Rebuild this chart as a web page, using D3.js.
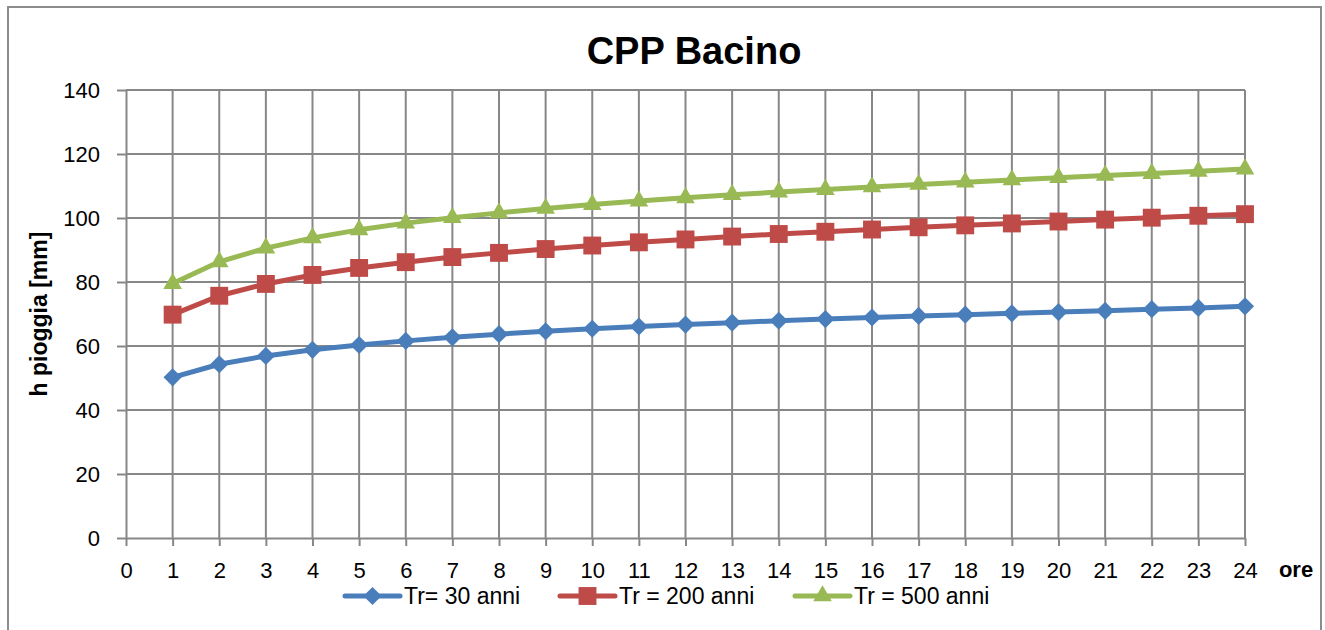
<!DOCTYPE html>
<html>
<head>
<meta charset="utf-8">
<script src="https://cdn.jsdelivr.net/npm/d3@7"></script>
<style>
  html, body { margin: 0; padding: 0; background: #fff; }
  svg { display: block; }
  text { font-family: "Liberation Sans", Arial, sans-serif; fill: #000; }
</style>
</head>
<body>
<svg id="chart" width="1325" height="630"></svg>
<script>
// Durata della pioggia (ore)
const ore = [1,2,3,4,5,6,7,8,9,10,11,12,13,14,15,16,17,18,19,20,21,22,23,24];

// Altezza di pioggia [mm] per tempo di ritorno
const tr30 = [50.2,54.3,56.9,58.8,60.3,61.6,62.7,63.7,64.6,65.4,66.1,66.7,67.3,67.9,68.4,68.9,69.4,69.8,70.2,70.6,71.0,71.5,71.9,72.4];
const tr200 = [69.8,75.7,79.4,82.2,84.4,86.2,87.8,89.1,90.3,91.4,92.4,93.3,94.2,95.0,95.7,96.4,97.1,97.7,98.3,98.9,99.5,100.1,100.7,101.2];
const tr500 = [79.5,86.3,90.6,93.8,96.3,98.4,100.1,101.6,103.0,104.2,105.3,106.3,107.3,108.1,108.9,109.7,110.5,111.2,111.9,112.6,113.3,113.9,114.6,115.3];

const serieNomi = ["Tr= 30 anni", "Tr = 200 anni", "Tr = 500 anni"];
const serieColori = ["#4a7ebb", "#be4b48", "#98b954"];
const serieMarker = ["diamond", "square", "triangle"];

const xTicks = d3.range(0, 25);
const yTicks = [0, 20, 40, 60, 80, 100, 120, 140];

const svg = d3.select("#chart");

// cornice dell'area grafico
svg.append("rect")
  .attr("x", 8).attr("y", 7)
  .attr("width", 1313).attr("height", 640)
  .attr("fill", "#fff").attr("stroke", "#8c8c8c").attr("stroke-width", 2);

const x = d3.scaleLinear().domain([0, 24]).range([126, 1245]);
const y = d3.scaleLinear().domain([0, 140]).range([538, 90]);

const gridColor = "#878787";

// griglia orizzontale
svg.append("g").selectAll("line")
  .data(yTicks.filter(v => v > 0))
  .join("line")
  .attr("x1", x(0)).attr("x2", x(24))
  .attr("y1", d => y(d)).attr("y2", d => y(d))
  .attr("stroke", gridColor).attr("stroke-width", 2);

// griglia verticale
svg.append("g").selectAll("line")
  .data(xTicks.filter(v => v > 0))
  .join("line")
  .attr("x1", d => x(d)).attr("x2", d => x(d))
  .attr("y1", y(0)).attr("y2", y(140))
  .attr("stroke", gridColor).attr("stroke-width", 2);

// asse Y
const yAxis = svg.append("g")
  .attr("transform", `translate(${x(0)},0)`)
  .call(d3.axisLeft(y).tickValues(yTicks).tickSize(9).tickSizeOuter(0).tickPadding(17));
yAxis.select(".domain").attr("stroke", gridColor).attr("stroke-width", 2);
yAxis.selectAll(".tick line").attr("stroke", gridColor).attr("stroke-width", 2);
yAxis.selectAll(".tick text")
  .style("font-family", '"Liberation Sans", Arial, sans-serif')
  .style("font-size", "22px").attr("fill", "#000");

// asse X
const xAxis = svg.append("g")
  .attr("transform", `translate(0,${y(0)})`)
  .call(d3.axisBottom(x).tickValues(xTicks).tickSize(8).tickSizeOuter(0).tickPadding(16));
xAxis.select(".domain").attr("stroke", gridColor).attr("stroke-width", 2);
xAxis.selectAll(".tick line").attr("stroke", gridColor).attr("stroke-width", 2);
xAxis.selectAll(".tick text")
  .style("font-family", '"Liberation Sans", Arial, sans-serif')
  .style("font-size", "22px").attr("fill", "#000");

// titolo
svg.append("text")
  .attr("x", 694).attr("y", 64)
  .attr("text-anchor", "middle")
  .style("font-size", "38px").style("font-weight", "bold")
  .text("CPP Bacino");

// titolo asse Y
svg.append("text")
  .attr("transform", `translate(47,${(y(0) + y(140)) / 2}) rotate(-90)`)
  .attr("text-anchor", "middle")
  .style("font-size", "23px").style("font-weight", "bold")
  .text("h pioggia [mm]");

// titolo asse X
svg.append("text")
  .attr("x", 1296).attr("y", 577)
  .attr("text-anchor", "middle")
  .style("font-size", "22px").style("font-weight", "bold")
  .text("ore");

function markerPath(kind) {
  if (kind === "diamond") return d3.symbol(d3.symbolSquare, 165)();
  if (kind === "square") return d3.symbol(d3.symbolSquare, 320)();
  return d3.symbol(d3.symbolTriangle, 150)();
}
function markerRot(kind) { return kind === "diamond" ? " rotate(45)" : ""; }

const serie = [tr30, tr200, tr500];
const line = d3.line().x((d, i) => x(ore[i])).y(d => y(d));

serie.forEach((vals, s) => {
  const g = svg.append("g");
  g.append("path")
    .datum(vals)
    .attr("d", line)
    .attr("fill", "none")
    .attr("stroke", serieColori[s])
    .attr("stroke-width", 5)
    .attr("stroke-linejoin", "round");
  g.selectAll("path.m")
    .data(vals)
    .join("path")
    .attr("class", "m")
    .attr("d", markerPath(serieMarker[s]))
    .attr("transform", (d, i) => `translate(${x(ore[i])},${y(d)})${markerRot(serieMarker[s])}`)
    .attr("fill", serieColori[s]);
});

// legenda
const legendX = [345, 560, 795];
const legendY = 596;
serieNomi.forEach((nome, s) => {
  const g = svg.append("g").attr("transform", `translate(${legendX[s]},${legendY})`);
  g.append("line")
    .attr("x1", 0).attr("x2", 55).attr("y1", 0).attr("y2", 0)
    .attr("stroke", serieColori[s]).attr("stroke-width", 5).attr("stroke-linecap", "round");
  g.append("path")
    .attr("d", markerPath(serieMarker[s]))
    .attr("transform", `translate(27.5,0)${markerRot(serieMarker[s])}`)
    .attr("fill", serieColori[s]);
  g.append("text")
    .attr("x", 59).attr("y", 8)
    .style("font-size", "23px")
    .text(nome);
});
</script>
</body>
</html>
